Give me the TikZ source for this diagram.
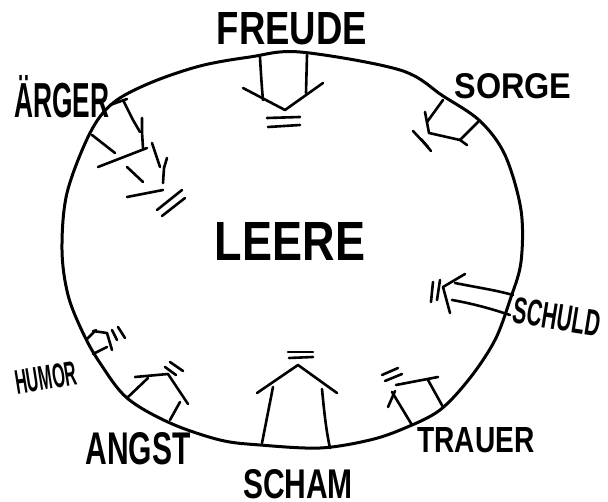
\documentclass[tikz,border=0pt]{standalone}
\usepackage{fontspec}
\setmainfont{Liberation Sans}
\newcommand{\hw}[3]{\resizebox{#1pt}{#2pt}{\bfseries #3}}
\begin{document}
\begin{tikzpicture}[x=1pt,y=-1pt,
  ink/.style={line width=2.6pt, line cap=round, line join=round},
  rim/.style={line width=3pt, line join=round},
  lbl/.style={inner sep=0pt, anchor=center}]
\useasboundingbox (0,0) rectangle (608,502);
% outline
\draw[rim] plot[smooth cycle, tension=0.55] coordinates {
 (300,52) (400,70) (443,96) (480,121) (505,155) (521,210) (521,262) (510,300)
 (495,340) (470,378) (440,410) (405,428) (370,440) (320,448) (260,445) (220,440)
 (170,423) (127,398) (100,363) (83,333) (68,295) (62,250) (67,193) (90,133)
 (113,103) (150,83) (200,66) (250,57)};
% labels
\node[lbl] (freude) at (292,29) {\hw{150}{32}{FREUDE}};
\node[lbl] (aerger) at (62,97) {\hw{95}{42}{ÄRGER}};
\node[lbl] (sorge) at (513,86) {\hw{117}{25}{SORGE}};
\node[lbl, rotate=-9] (schuld) at (557,317) {\hw{88}{26}{SCHULD}};
\node[lbl, rotate=9] (humor) at (46,378) {\hw{62}{24}{HUMOR}};
\node[lbl] (angst) at (138,449) {\hw{105}{32}{ANGST}};
\node[lbl] (scham) at (298,484) {\hw{110}{29}{SCHAM}};
\node[lbl] (trauer) at (476,440) {\hw{117}{25}{TRAUER}};
\node[lbl] (leere) at (290,241) {\hw{150}{38}{LEERE}};
% FREUDE arrow
\draw[ink] (260,57) .. controls (261,75) and (262,90) .. (263,100);
\draw[ink] (307,55) -- (306,93);
\draw[ink] (243,88) -- (285,110) -- (323,83);
\draw[ink] (267,118) -- (300,117);
\draw[ink] (268,127) -- (300,125);
% AERGER arrows
\draw[ink] (110,105) -- (127,99);
\draw[ink] (123,100) -- (133,120) -- (140,132);
\draw[ink] (142,118) -- (142,132) -- (143,148);
\draw[ink] (92,135) -- (115,153);
\draw[ink] (98,167) -- (147,148);
\draw[ink] (127,167) -- (143,182);
\draw[ink] (152,143) -- (160,167);
\draw[ink] (167,158) -- (164,168) -- (163,183);
\draw[ink] (127,197) -- (163,190);
\draw[ink] (157,210) -- (182,190);
\draw[ink] (162,216) -- (185,198);
% SORGE arrow
\draw[ink] (443,100) -- (427,122);
\draw[ink] (478,122) -- (460,140);
\draw[ink] (425,112) -- (429,133) -- (460,140) -- (467,145);
\draw[ink] (413,131) -- (428,147);
\draw[ink] (421,139) -- (431,151);
% SCHULD arrow
\draw[ink] (455,283) .. controls (480,288) and (495,290) .. (513,295);
\draw[ink] (452,300) .. controls (475,304) and (495,310) .. (510,315);
\draw[ink] (465,274) -- (443,287) -- (450,313);
\draw[ink] (433,282) -- (431,302);
\draw[ink] (440,280) -- (437,300);
% HUMOR arrow
\draw[ink] (87,339) -- (96,330);
\draw[ink] (93,331) -- (107,333) -- (112,350);
\draw[ink] (93,354) -- (107,347);
\draw[ink] (112,330) -- (117,340);
\draw[ink] (118,327) -- (125,338);
% ANGST arrow
\draw[ink] (127,398) -- (148,378);
\draw[ink] (135,377) -- (168,374) -- (188,404);
\draw[ink] (170,420) -- (180,402);
\draw[ink] (165,367) -- (176,375);
\draw[ink] (170,362) -- (183,371);
% SCHAM arrow
\draw[ink] (262,443) -- (273,387);
\draw[ink] (330,448) .. controls (326,430) and (324,410) .. (322,389);
\draw[ink] (257,393) -- (298,365) -- (337,393);
\draw[ink] (288,352) -- (313,352);
\draw[ink] (289,358) -- (313,357);
% TRAUER arrow
\draw[ink] (412,425) -- (392,392);
\draw[ink] (388,407) -- (395,391);
\draw[ink] (396,385) -- (438,377);
\draw[ink] (428,380) -- (443,407);
\draw[ink] (382,375) -- (398,368);
\draw[ink] (385,381) -- (402,374);
\end{tikzpicture}
\end{document}
